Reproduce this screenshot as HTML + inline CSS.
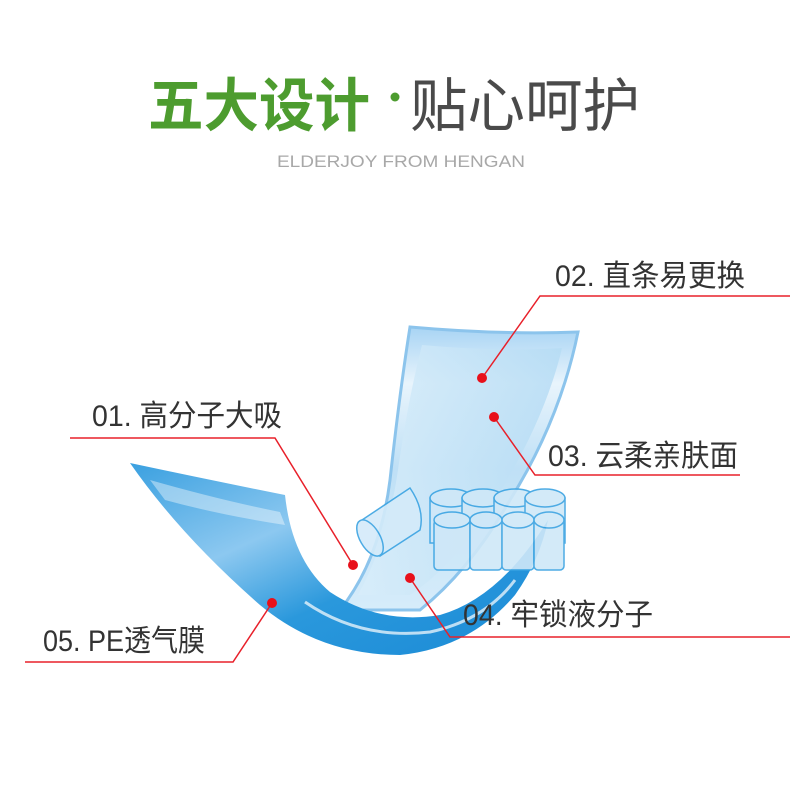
<!DOCTYPE html>
<html><head><meta charset="utf-8"><style>
html,body{margin:0;padding:0;background:#fff}
svg{display:block}
text{font-family:"Liberation Sans","Noto Sans CJK SC",sans-serif}
</style></head><body>
<svg width="790" height="800" viewBox="0 0 790 800" xmlns="http://www.w3.org/2000/svg">
<defs>
<linearGradient id="wing" x1="0" y1="0" x2="1" y2="1">
<stop offset="0" stop-color="#3aa0e0"/><stop offset="0.35" stop-color="#8cc8f0"/><stop offset="0.6" stop-color="#2a98dc"/><stop offset="1" stop-color="#1a8ad6"/>
</linearGradient>
<linearGradient id="back" x1="0" y1="0" x2="0" y2="1">
<stop offset="0" stop-color="#a8d4f4"/><stop offset="0.2" stop-color="#e8f4fc"/><stop offset="0.5" stop-color="#bfe0f6"/><stop offset="1" stop-color="#d6ecfa"/>
</linearGradient>
<linearGradient id="inner" x1="0" y1="0" x2="1" y2="0">
<stop offset="0" stop-color="#d8edfa"/><stop offset="1" stop-color="#b6dcf4"/>
</linearGradient>
</defs>
<!-- title -->
<text x="148" y="126" font-size="58" font-weight="bold" fill="#4d9c2f" textLength="222" lengthAdjust="spacingAndGlyphs">五大设计</text>
<circle cx="395" cy="97" r="4.5" fill="#4d9c2f"/>
<text x="410" y="126" font-size="58" fill="#4a4a4a" textLength="230" lengthAdjust="spacingAndGlyphs">贴心呵护</text>
<text x="277" y="167" font-size="17" fill="#a8a8a8" font-family="Liberation Mono,monospace" textLength="248" lengthAdjust="spacingAndGlyphs">ELDERJOY FROM HENGAN</text>

<!-- back upright part -->
<path d="M410,327 Q500,335 578,332 Q560,420 510,500 Q470,570 420,610 L340,610 Q380,560 390,480 Q400,390 410,327 Z" fill="url(#back)" stroke="#8cc4ec" stroke-width="3"/>
<path d="M422,345 Q500,352 562,348 Q545,420 495,500 Q455,565 410,595 L358,595 Q388,540 398,470 Q408,400 422,345 Z" fill="url(#inner)" opacity="0.85"/>
<!-- left wing + bottom band -->
<path d="M130,463 Q210,480 285,495 Q292,560 330,592 Q380,625 440,615 Q500,598 548,520 Q540,560 515,595 Q470,648 400,655 Q320,655 260,605 Q180,535 130,463 Z" fill="url(#wing)"/>
<path d="M150,480 Q220,500 280,512 L285,525 Q220,515 165,500 Z" fill="#ffffff" opacity="0.4"/>
<path d="M305,602 Q360,640 430,632 Q485,620 515,580" fill="none" stroke="#ffffff" stroke-width="3" opacity="0.7"/>
<!-- tilted cup -->
<g fill="#d4ebfa" stroke="#3aa3e2" stroke-width="1.5" opacity="0.9">
<path d="M362,520 L410,488 Q425,510 420,530 L380,556 Z"/>
<ellipse cx="370" cy="538" rx="10" ry="20" transform="rotate(-30 370 538)"/>
</g>
<!-- cups -->
<g fill="#cfe8f8" stroke="#3aa3e2" stroke-width="1.5" opacity="0.9">
<rect x="430" y="498" width="42" height="45"/><ellipse cx="451" cy="498" rx="21" ry="9"/>
<rect x="462" y="498" width="42" height="45"/><ellipse cx="483" cy="498" rx="21" ry="9"/>
<rect x="494" y="498" width="42" height="45"/><ellipse cx="515" cy="498" rx="21" ry="9"/>
<rect x="525" y="498" width="40" height="45"/><ellipse cx="545" cy="498" rx="20" ry="9"/>
<rect x="434" y="520" width="36" height="50" rx="4"/><ellipse cx="452" cy="520" rx="18" ry="8"/>
<rect x="470" y="520" width="32" height="50" rx="4"/><ellipse cx="486" cy="520" rx="16" ry="8"/>
<rect x="502" y="520" width="32" height="50" rx="4"/><ellipse cx="518" cy="520" rx="16" ry="8"/>
<rect x="534" y="520" width="30" height="50" rx="4"/><ellipse cx="549" cy="520" rx="15" ry="8"/>
</g>

<!-- leader lines -->
<g fill="none" stroke="#e8202a" stroke-width="1.5">
<polyline points="482,378 540,296 790,296"/>
<polyline points="70,438 275,438 353,565"/>
<polyline points="494,417 535,475 740,475"/>
<polyline points="410,578 450,637 790,637"/>
<polyline points="25,662 233,662 272,603"/>
</g>
<g fill="#e8101a">
<circle cx="482" cy="378" r="5"/><circle cx="494" cy="417" r="5"/>
<circle cx="353" cy="565" r="5"/><circle cx="410" cy="578" r="5"/><circle cx="272" cy="603" r="5"/>
</g>
<g font-size="30" fill="#333">
<text x="555" y="286" textLength="190" lengthAdjust="spacingAndGlyphs">02. 直条易更换</text>
<text x="92" y="426" textLength="190" lengthAdjust="spacingAndGlyphs">01. 高分子大吸</text>
<text x="548" y="466" textLength="190" lengthAdjust="spacingAndGlyphs">03. 云柔亲肤面</text>
<text x="463" y="625" textLength="190" lengthAdjust="spacingAndGlyphs">04. 牢锁液分子</text>
<text x="43" y="651" textLength="162" lengthAdjust="spacingAndGlyphs">05. PE透气膜</text>
</g>
</svg>
</body></html>
